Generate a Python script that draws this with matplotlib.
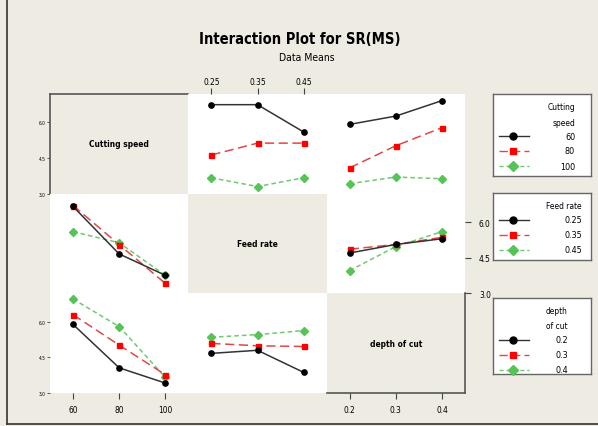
import numpy as np
import matplotlib
matplotlib.use("Agg")
import matplotlib.pyplot as plt
from matplotlib.lines import Line2D

W, H = 598, 427
BG = '#EEEBE2'
FONT = ['DejaVu Sans']
STRETCH = 'condensed'

# factor levels
cs_levels = [60, 80, 100]
fr_levels = [0.25, 0.35, 0.45]
doc_levels = [0.2, 0.3, 0.4]
factor_names = ['Cutting speed', 'Feed rate', 'depth of cut']

# data means (rows = trace levels, cols = x levels)
sr_cs_vs_fr = [[6.75, 6.75, 5.60], [4.63, 5.13, 5.13], [3.67, 3.30, 3.67]]
sr_cs_vs_doc = [[5.92, 6.27, 6.92], [4.09, 5.02, 5.78], [3.42, 3.70, 3.63]]
sr_fr_vs_cs = [[6.66, 4.66, 3.76], [6.70, 5.05, 3.42], [5.60, 5.13, 3.76]]
sr_fr_vs_doc = [[4.70, 5.06, 5.30], [4.86, 5.06, 5.36], [3.96, 4.97, 5.60]]
sr_doc_vs_cs = [[5.89, 4.06, 3.42], [6.30, 5.02, 3.77], [6.96, 5.80, 3.66]]
sr_doc_vs_fr = [[4.67, 4.80, 3.87], [5.09, 4.99, 4.96], [5.35, 5.46, 5.63]]

y_ticks = [3.0, 4.5, 6.0]
legend_titles = [['Cutting', 'speed'], ['Feed rate'], ['depth', 'of cut']]
legend_labels = [['60', '80', '100'], ['0.25', '0.35', '0.45'], ['0.2', '0.3', '0.4']]

# trace styles: black solid circle, red dashed square, green dotted diamond
styles = [
    dict(color='#333333', mfc='black', mec='black', marker='o', ls='-', ms=3.8),
    dict(color='#E04848', mfc='#FF0000', mec='#FF0000', marker='s', ls=(0, (6, 3)), ms=3.6),
    dict(color='#70C870', mfc='#55C455', mec='#55C455', marker='D', ls=(0, (3, 2)), ms=3.6),
]

levels = [cs_levels, fr_levels, doc_levels]
xlims = [(50, 110), (0.20, 0.50), (0.15, 0.45)]
panels = {(0, 1): sr_cs_vs_fr, (0, 2): sr_cs_vs_doc,
          (1, 0): sr_fr_vs_cs, (1, 2): sr_fr_vs_doc,
          (2, 0): sr_doc_vs_cs, (2, 1): sr_doc_vs_fr}

fig = plt.figure(figsize=(W / 100, H / 100), dpi=100, facecolor=BG)

def fx(x):
    return x / W

def fy(y):
    return 1 - y / H

gl, gr, gt, gb = 50, 465, 95, 394
cw = (gr - gl) / 3
rh = (gb - gt) / 3

axes = {}
for i in range(3):
    for j in range(3):
        x0 = gl + j * cw
        y1 = gt + (i + 1) * rh
        ax = fig.add_axes([fx(x0), fy(y1), cw / W, rh / H])
        ax.set_xlim(*xlims[j])
        ax.set_ylim(3.0, 7.2)
        ax.set_facecolor(BG if i == j else 'white')
        for s in ax.spines.values():
            s.set_visible(False)
        ax.set_xticks([])
        ax.set_yticks([])
        axes[(i, j)] = ax
        if i == j:
            ax.text(0.5, 0.5, factor_names[i], transform=ax.transAxes,
                    ha='center', va='center', fontsize=6, fontweight='bold',
                    family=FONT, fontstretch=STRETCH)
        else:
            data = panels[(i, j)]
            for k in range(3):
                st = styles[k]
                ax.plot(levels[j], data[k], color=st['color'], ls=st['ls'],
                        lw=1.1, marker=st['marker'], ms=st['ms'],
                        mfc=st['mfc'], mec=st['mec'], zorder=3 + (2 - k))

tick_kw = dict(length=4, width=0.8, color='#444444', labelsize=6)

def style_labels(labels):
    for t in labels:
        t.set_fontstretch(STRETCH)

# top axis of column 2
ax = axes[(0, 1)]
ax.xaxis.tick_top()
ax.set_xticks(fr_levels)
style_labels(ax.set_xticklabels(['0.25', '0.35', '0.45']))
ax.tick_params(axis='x', pad=2, **tick_kw)

# bottom axis of columns 1 and 3
ax = axes[(2, 0)]
ax.set_xticks(cs_levels)
style_labels(ax.set_xticklabels(['60', '80', '100']))
ax.tick_params(axis='x', pad=5, **tick_kw)
ax = axes[(2, 2)]
ax.set_xticks(doc_levels)
style_labels(ax.set_xticklabels(['0.2', '0.3', '0.4']))
ax.tick_params(axis='x', pad=5, **tick_kw)
for s in ('bottom', 'right'):
    ax.spines[s].set_visible(True)
    ax.spines[s].set_color('#555555')
    ax.spines[s].set_linewidth(1.2)

# right axis of row 2
ax = axes[(1, 2)]
ax.yaxis.tick_right()
ax.set_yticks(y_ticks)
style_labels(ax.set_yticklabels(['3.0', '4.5', '6.0']))
ax.tick_params(axis='y', pad=6, **tick_kw)

# left axis of rows 1 and 3 (tiny labels)
for key in [(0, 0), (2, 0)]:
    ax = axes[key]
    ax.set_yticks(y_ticks)
    style_labels(ax.set_yticklabels(['3.0', '4.5', '6.0']))
    ax.tick_params(axis='y', length=2, width=0.6, color='#444444',
                   labelsize=3.5, pad=1)
ax = axes[(0, 0)]
for s in ('top', 'left'):
    ax.spines[s].set_visible(True)
    ax.spines[s].set_color('#555555')
    ax.spines[s].set_linewidth(1.2)

# titles
fig.text(fx(300), fy(40), 'Interaction Plot for SR(MS)', ha='center',
         va='center', fontsize=10.5, fontweight='bold', family=FONT,
         fontstretch=STRETCH)
fig.text(fx(307), fy(58), 'Data Means', ha='center', va='center',
         fontsize=7.5, family=FONT, fontstretch=STRETCH)

# legend boxes
boxes = [(95, 177), (194, 261), (299, 375)]
label_right = [575, 582, 568]
for b, (top, bot) in enumerate(boxes):
    lax = fig.add_axes([fx(493), fy(bot), (591 - 493) / W, (bot - top) / H])
    lax.set_facecolor('white')
    lax.set_xticks([])
    lax.set_yticks([])
    for s in lax.spines.values():
        s.set_color('#666666')
        s.set_linewidth(1.0)
    ty = top + 13
    for line in legend_titles[b]:
        fig.text(fx(label_right[b]), fy(ty), line, ha='right', va='center',
                 fontsize=6, family=FONT, fontstretch=STRETCH)
        ty += 15
    ey = ty - 1
    for k in range(3):
        st = styles[k]
        fig.add_artist(Line2D([fx(499), fx(529)], [fy(ey), fy(ey)],
                              color=st['color'], ls=st['ls'], lw=1.0))
        fig.add_artist(Line2D([fx(513)], [fy(ey)], marker=st['marker'],
                              ms=5, mfc=st['mfc'], mec=st['mec'], ls='none'))
        fig.text(fx(label_right[b]), fy(ey), legend_labels[b][k], ha='right',
                 va='center', fontsize=6.5, family=FONT, fontstretch=STRETCH)
        ey += 15

# outer frame of the picture
fig.add_artist(Line2D([fx(7), fx(7)], [fy(0), fy(425)], color='#333333', lw=1.2))
fig.add_artist(Line2D([fx(7), fx(598)], [fy(425), fy(425)], color='#333333', lw=1.2))

fig.savefig('out.png', dpi=100, facecolor=BG)
